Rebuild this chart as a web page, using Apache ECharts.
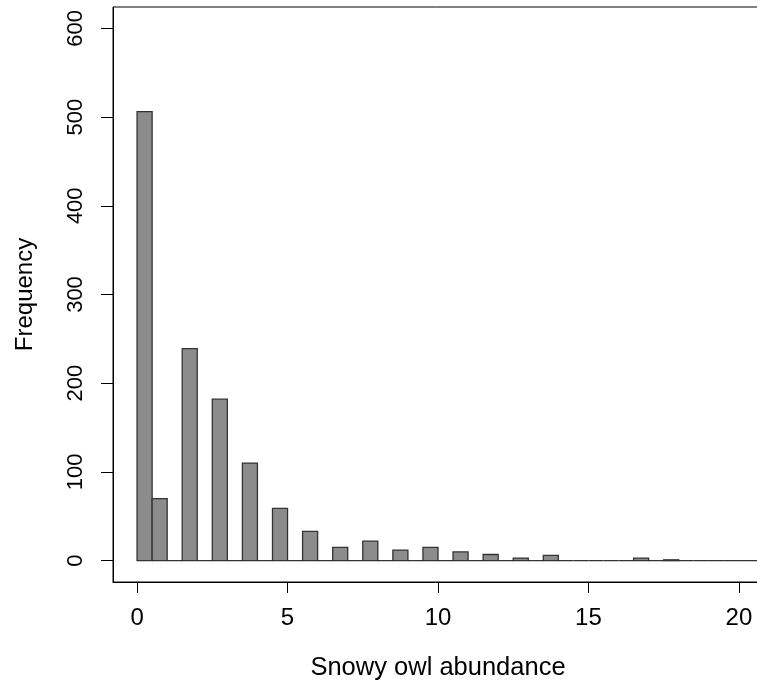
<!DOCTYPE html>
<html>
<head>
<meta charset="utf-8">
<script src="https://cdn.jsdelivr.net/npm/echarts@6/dist/echarts.min.js"></script>
<style>html,body{margin:0;padding:0;background:#fff}#c{width:757px;height:690px}</style>
</head>
<body>
<div id="c"></div>
<script>
// Histogram bins (width 0.5) of snowy owl abundance
const binStart = [0,0.5,1,1.5,2,2.5,3,3.5,4,4.5,5,5.5,6,6.5,7,7.5,8,8.5,9,9.5,10,10.5,11,11.5,12,12.5,13,13.5,14,14.5,15,15.5,16,16.5,17,17.5,18,18.5,19,19.5,20,20.5];
const binWidth = 0.5;
const counts = [506,70,0,239,0,182,0,110,0,59,0,33,0,15,0,22,0,12,0,15,0,10,0,7,0,3,0,6,0,0,0,0,0,3,0,1,0,0,0,0,0,0];
const xTicks = [0,5,10,15,20];
const yTicks = [0,100,200,300,400,500,600];
const xTitle = 'Snowy owl abundance';
const yTitle = 'Frequency';

const data = binStart.map((s, i) => [s, s + binWidth, counts[i]]);
const font = '"Liberation Sans", Arial, sans-serif';

const chart = echarts.init(document.getElementById('c'), null, {renderer: 'canvas'});
chart.setOption({
  animation: false,
  backgroundColor: '#fff',
  grid: {
    left: 113, top: 7, width: 650, height: 575,
    outerBoundsMode: 'none', containLabel: false,
    show: true, borderColor: '#000', borderWidth: 1, backgroundColor: 'transparent'
  },
  xAxis: {
    type: 'value', min: -0.8, max: 20.8,
    name: xTitle, nameLocation: 'middle', nameGap: 73,
    nameTextStyle: {fontSize: 25.5, color: '#000', fontFamily: font},
    axisLine: {show: true, onZero: false, lineStyle: {color: '#000', width: 1}},
    axisTick: {show: true, inside: false, length: 11, lineStyle: {color: '#000'}, customValues: xTicks},
    axisLabel: {show: true, fontSize: 24, color: '#000', fontFamily: font, margin: 24, customValues: xTicks},
    splitLine: {show: false}
  },
  yAxis: {
    type: 'value', min: -24, max: 624,
    name: yTitle, nameLocation: 'middle', nameGap: 76, nameRotate: 90,
    nameTextStyle: {fontSize: 24, color: '#000', fontFamily: font},
    axisLine: {show: true, onZero: false, lineStyle: {color: '#000', width: 1}},
    axisTick: {show: true, inside: false, length: 12, lineStyle: {color: '#000'}, customValues: yTicks},
    axisLabel: {show: true, fontSize: 22, color: '#000', fontFamily: font, margin: 26, rotate: 90, customValues: yTicks},
    splitLine: {show: false}
  },
  series: [{
    type: 'custom',
    data: data,
    clip: true,
    encode: {x: [0, 1], y: 2},
    renderItem: function (params, api) {
      const p0 = api.coord([api.value(0), 0]);
      const p1 = api.coord([api.value(1), api.value(2)]);
      return {
        type: 'rect',
        shape: {x: p0[0], y: p1[1], width: p1[0] - p0[0], height: p0[1] - p1[1]},
        style: {fill: '#8c8c8c', stroke: '#333', lineWidth: 1.3}
      };
    }
  }]
});
</script>
</body>
</html>
